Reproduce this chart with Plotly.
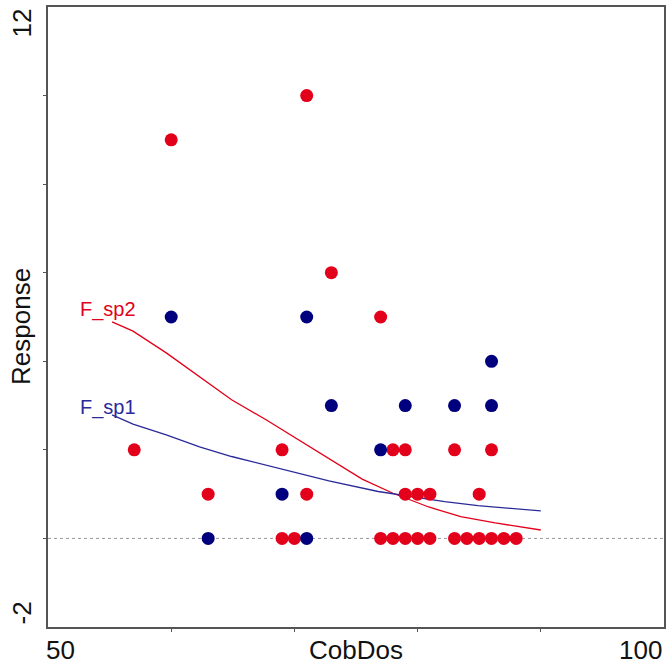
import plotly.graph_objects as go

# Observations
sp2_x = [57, 60, 63, 69, 69, 70, 71, 71, 73, 77, 78, 79, 79, 80, 81,
         77, 78, 79, 80, 81, 83, 85, 86, 83, 84, 85, 86, 87, 88]
sp2_y = [2, 9, 1, 2, 0, 0, 10, 1, 6, 5, 2, 2, 1, 1, 1,
         0, 0, 0, 0, 0, 2, 1, 2, 0, 0, 0, 0, 0, 0]
sp1_x = [60, 63, 69, 71, 71, 73, 77, 79, 83, 86, 86]
sp1_y = [5, 0, 1, 5, 0, 3, 2, 3, 3, 4, 3]

# Fitted curves
fit2_x = [55.2, 56.9, 59.6, 62.3, 64.9, 67.7, 70.4, 72.8, 75.5, 78.0, 80.9, 83.5, 86.3, 90.0]
fit2_y = [4.89, 4.68, 4.19, 3.65, 3.13, 2.68, 2.22, 1.80, 1.34, 1.02, 0.71, 0.49, 0.35, 0.19]
fit1_x = [55.2, 56.9, 59.6, 62.3, 64.9, 67.7, 70.1, 72.8, 76.8, 79.5, 82.2, 84.9, 87.6, 90.0]
fit1_y = [2.79, 2.58, 2.34, 2.07, 1.85, 1.66, 1.48, 1.30, 1.06, 0.94, 0.83, 0.74, 0.67, 0.62]

x_range = [50, 100]
y_range = [-2, 12]
x_ticks = [60, 70, 80, 90]
y_ticks = [0, 2, 4, 6, 8, 10]

RED = "#E2001A"
BLUE = "#00007F"
LBLUE = "#2a2a9a"
FONT = "Liberation Sans, Arial, sans-serif"

fig = go.Figure()
fig.add_trace(go.Scatter(x=x_range, y=[0, 0], mode="lines",
                         line=dict(color="#999999", width=1, dash="dot"),
                         hoverinfo="skip", showlegend=False))
fig.add_trace(go.Scatter(x=fit2_x, y=fit2_y, mode="lines", line=dict(color=RED, width=1.3),
                         showlegend=False))
fig.add_trace(go.Scatter(x=fit1_x, y=fit1_y, mode="lines", line=dict(color=LBLUE, width=1.3),
                         showlegend=False))
fig.add_trace(go.Scatter(x=sp2_x, y=sp2_y, mode="markers",
                         marker=dict(color=RED, size=13, line=dict(width=0)), showlegend=False))
fig.add_trace(go.Scatter(x=sp1_x, y=sp1_y, mode="markers",
                         marker=dict(color=BLUE, size=13, line=dict(width=0)), showlegend=False))

annotations = [
    dict(text="F_sp2", x=52.4, y=5.16, xref="x", yref="y", xanchor="left", yanchor="middle",
         showarrow=False, font=dict(color=RED, size=20, family=FONT)),
    dict(text="F_sp1", x=52.4, y=2.95, xref="x", yref="y", xanchor="left", yanchor="middle",
         showarrow=False, font=dict(color=LBLUE, size=20, family=FONT)),
    dict(text=str(x_range[0]), x=0, y=0, xref="paper", yref="paper", xanchor="left", yanchor="top",
         xshift=-4, yshift=-6, showarrow=False, font=dict(size=26, color="#111", family=FONT)),
    dict(text=str(x_range[1]), x=1, y=0, xref="paper", yref="paper", xanchor="right", yanchor="top",
         yshift=-6, showarrow=False, font=dict(size=26, color="#111", family=FONT)),
    dict(text=str(y_range[1]), x=0, y=1, xref="paper", yref="paper", xanchor="right", yanchor="top",
         xshift=-10, textangle=-90, showarrow=False, font=dict(size=26, color="#111", family=FONT)),
    dict(text=str(y_range[0]), x=0, y=0, xref="paper", yref="paper", xanchor="right", yanchor="bottom",
         xshift=-10, textangle=-90, showarrow=False, font=dict(size=26, color="#111", family=FONT)),
    dict(text="CobDos", x=0.5, y=0, xref="paper", yref="paper", xanchor="center", yanchor="top",
         yshift=-6, showarrow=False, font=dict(size=26, color="#111", family=FONT)),
    dict(text="Response", x=0, y=0.484, xref="paper", yref="paper", xanchor="right", yanchor="middle",
         xshift=-10, textangle=-90, showarrow=False, font=dict(size=26, color="#111", family=FONT)),
]

fig.update_layout(
    width=668, height=666,
    margin=dict(l=48, r=2, t=7, b=39),
    paper_bgcolor="white", plot_bgcolor="white",
    annotations=annotations,
    xaxis=dict(range=x_range, tickvals=x_ticks, ticktext=[""] * len(x_ticks),
               ticks="outside", ticklen=3, tickcolor="#555", showgrid=False, zeroline=False,
               showline=True, linecolor="#555", linewidth=2, mirror=True),
    yaxis=dict(range=y_range, tickvals=y_ticks, ticktext=[""] * len(y_ticks),
               ticks="outside", ticklen=3, tickcolor="#555", showgrid=False, zeroline=False,
               showline=True, linecolor="#555", linewidth=2, mirror=True),
)

fig.write_html("out.html")
